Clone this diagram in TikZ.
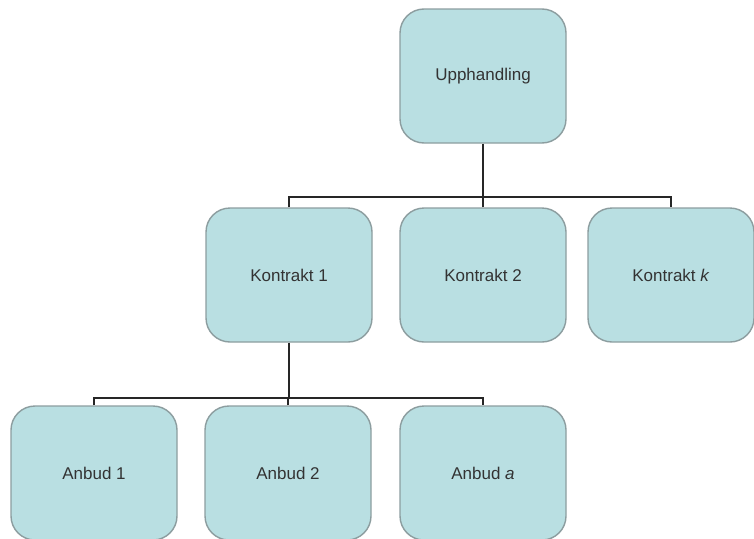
\documentclass[tikz,border=0pt]{standalone}
\usepackage{fontspec}
\setmainfont{Liberation Sans}
\definecolor{boxfill}{HTML}{B9DFE2}
\definecolor{boxline}{HTML}{8C9D9F}
\definecolor{conn}{HTML}{262626}
\begin{document}
\begin{tikzpicture}[x=1pt,y=-1pt,
  orgbox/.style={draw=boxline, line width=1.4pt, fill=boxfill, rounded corners=24pt,
    minimum width=166pt, minimum height=134pt, inner sep=0pt,
    font=\fontsize{17}{20}\selectfont, text=black!80},
  link/.style={draw=conn, line width=2.6pt}]
\useasboundingbox (0,0) rectangle (754,538);
\node[orgbox] (top) at (483,76) {Upphandling};
\node[orgbox] (k1) at (289,275) {Kontrakt 1};
\node[orgbox] (k2) at (483,275) {Kontrakt 2};
\node[orgbox] (kk) at (671,275) {Kontrakt \textit{k}};
\node[orgbox] (a1) at (94,473) {Anbud 1};
\node[orgbox] (a2) at (288,473) {Anbud 2};
\node[orgbox] (aa) at (483,473) {Anbud \textit{a}};
\coordinate (h1) at (0,197);
\coordinate (h2) at (0,398);
\draw[link] (top.south) -- (top.south |- h1);
\draw[link] (k1.north) |- (h1 -| kk.north) -- (kk.north);
\draw[link] (k2.north) -- (k2.north |- h1);
\draw[link] (k1.south) -- (k1.south |- h2);
\draw[link] (a1.north) |- (h2 -| aa.north) -- (aa.north);
\draw[link] (a2.north) -- (a2.north |- h2);
\end{tikzpicture}
\end{document}
